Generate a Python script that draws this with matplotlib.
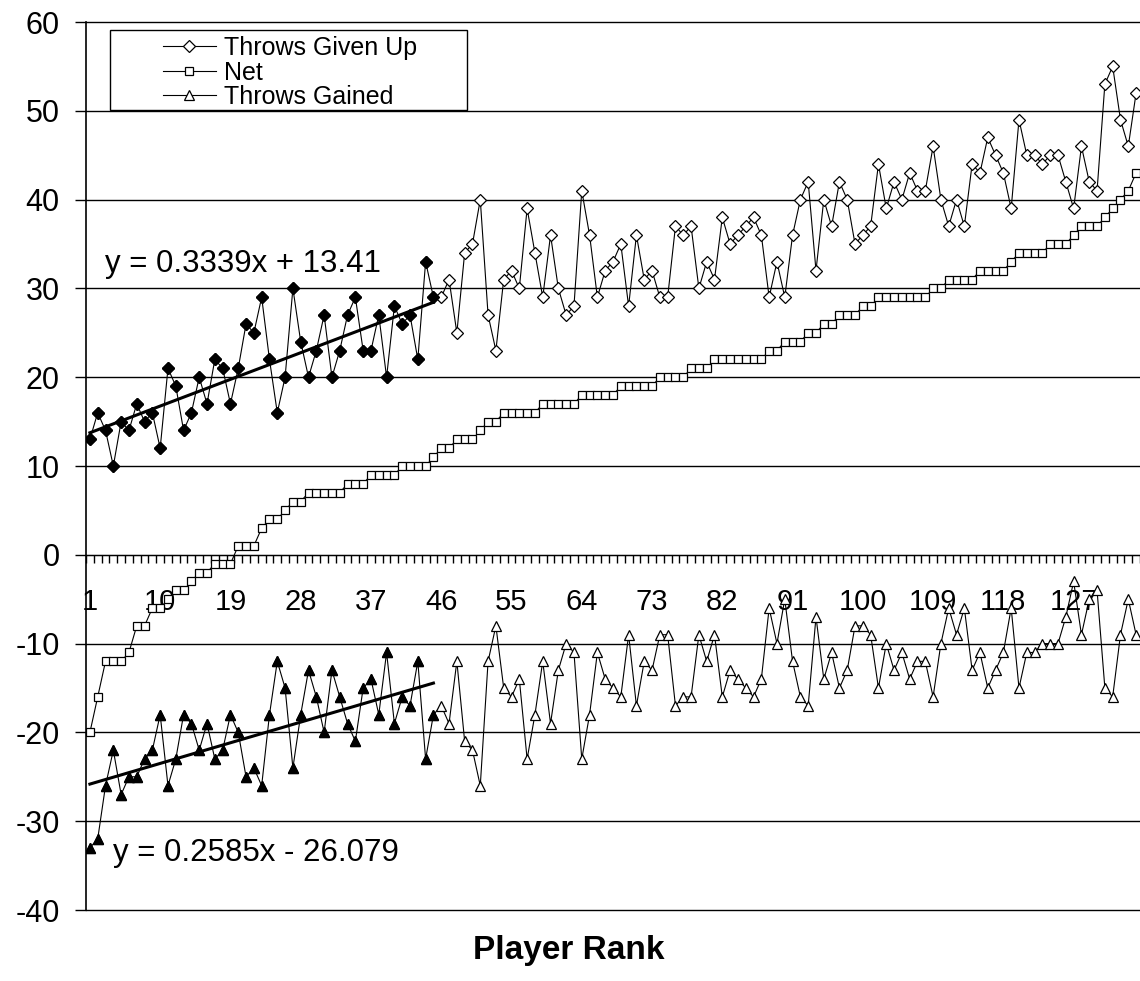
import numpy as np
import matplotlib.pyplot as plt
from matplotlib.patches import Rectangle

# per-player throw counts, in rank order
throws_given_up = [13, 16, 14, 10, 15, 14, 17, 15, 16, 12,
                   21, 19, 14, 16, 20, 17, 22, 21, 17, 21,
                   26, 25, 29, 22, 16, 20, 30, 24, 20, 23,
                   27, 20, 23, 27, 29, 23, 23, 27, 20, 28,
                   26, 27, 22, 33, 29, 29, 31, 25, 34, 35,
                   40, 27, 23, 31, 32, 30, 39, 34, 29, 36,
                   30, 27, 28, 41, 36, 29, 32, 33, 35, 28,
                   36, 31, 32, 29, 29, 37, 36, 37, 30, 33,
                   31, 38, 35, 36, 37, 38, 36, 29, 33, 29,
                   36, 40, 42, 32, 40, 37, 42, 40, 35, 36,
                   37, 44, 39, 42, 40, 43, 41, 41, 46, 40,
                   37, 40, 37, 44, 43, 47, 45, 43, 39, 49,
                   45, 45, 44, 45, 45, 42, 39, 46, 42, 41,
                   53, 55, 49, 46, 52]

net = [-20, -16, -12, -12, -12, -11, -8, -8, -6, -6,
       -5, -4, -4, -3, -2, -2, -1, -1, -1, 1,
       1, 1, 3, 4, 4, 5, 6, 6, 7, 7,
       7, 7, 7, 8, 8, 8, 9, 9, 9, 9,
       10, 10, 10, 10, 11, 12, 12, 13, 13, 13,
       14, 15, 15, 16, 16, 16, 16, 16, 17, 17,
       17, 17, 17, 18, 18, 18, 18, 18, 19, 19,
       19, 19, 19, 20, 20, 20, 20, 21, 21, 21,
       22, 22, 22, 22, 22, 22, 22, 23, 23, 24,
       24, 24, 25, 25, 26, 26, 27, 27, 27, 28,
       28, 29, 29, 29, 29, 29, 29, 29, 30, 30,
       31, 31, 31, 31, 32, 32, 32, 32, 33, 34,
       34, 34, 34, 35, 35, 35, 36, 37, 37, 37,
       38, 39, 40, 41, 43]

throws_gained = [-33, -32, -26, -22, -27, -25, -25, -23, -22, -18,
                 -26, -23, -18, -19, -22, -19, -23, -22, -18, -20,
                 -25, -24, -26, -18, -12, -15, -24, -18, -13, -16,
                 -20, -13, -16, -19, -21, -15, -14, -18, -11, -19,
                 -16, -17, -12, -23, -18, -17, -19, -12, -21, -22,
                 -26, -12, -8, -15, -16, -14, -23, -18, -12, -19,
                 -13, -10, -11, -23, -18, -11, -14, -15, -16, -9,
                 -17, -12, -13, -9, -9, -17, -16, -16, -9, -12,
                 -9, -16, -13, -14, -15, -16, -14, -6, -10, -5,
                 -12, -16, -17, -7, -14, -11, -15, -13, -8, -8,
                 -9, -15, -10, -13, -11, -14, -12, -12, -16, -10,
                 -6, -9, -6, -13, -11, -15, -13, -11, -6, -15,
                 -11, -11, -10, -10, -10, -7, -3, -9, -5, -4,
                 -15, -16, -9, -5, -9]

# linear trends fitted over the top 45 ranks
n_fit = 45
trend_given = (0.3339, 13.41)
trend_gained = (0.2585, -26.079)

rank = np.arange(1, len(net) + 1)
given_arr = np.array(throws_given_up)
gained_arr = np.array(throws_gained)

plt.rcParams['font.family'] = ['Liberation Sans', 'DejaVu Sans']
plt.rcParams['axes.unicode_minus'] = False

W, H = 1140, 981
fig = plt.figure(figsize=(W / 100, H / 100), dpi=100)
ax = fig.add_axes([86 / W, 1 - 910 / H, 1 - 86 / W, 888 / H])

line_kw = dict(color='black', lw=0.8, mec='black', mew=0.9, mfc='white')
ax.plot(rank, given_arr, marker='D', ms=6.3, label='Throws Given Up', **line_kw)
ax.plot(rank, net, marker='s', ms=5.9, label='Net', **line_kw)
ax.plot(rank, gained_arr, marker='^', ms=7.5, label='Throws Gained', **line_kw)

# solid markers on the ranks used for the trend fits
ax.plot(rank[:n_fit], given_arr[:n_fit], ls='none', marker='D', ms=6.3,
        mfc='black', mec='black')
ax.plot(rank[:n_fit], gained_arr[:n_fit], ls='none', marker='^', ms=7.5,
        mfc='black', mec='black')

xf = np.array([1, n_fit])
ax.plot(xf, trend_given[0] * xf + trend_given[1], color='black', lw=2.2, zorder=4)
ax.plot(xf, trend_gained[0] * xf + trend_gained[1], color='black', lw=2.2, zorder=4)
ax.text(2.9, 32.7, f'y = {trend_given[0]}x + {trend_given[1]}', fontsize=22.5, va='center')
ax.text(3.9, -33.6, f'y = {trend_gained[0]}x - {abs(trend_gained[1])}', fontsize=22.5, va='center')

ax.set_xlim(0.5, 135.15)
ax.set_ylim(-40, 60)
ax.set_yticks(range(-40, 61, 10))
ax.yaxis.grid(True, color='black', lw=1)
ax.set_axisbelow(True)
for gl in ax.get_ygridlines():
    gl.set_clip_on(False)

for side in ('top', 'right'):
    ax.spines[side].set_visible(False)
ax.spines['bottom'].set_position(('data', 0))
ax.spines['left'].set_linewidth(1.2)

ax.set_xticks(rank[::9])
ax.set_xticks(np.arange(0.5, len(net) + 1, 1), minor=True)
ax.tick_params(axis='x', which='major', length=0, pad=24, labelsize=21)
ax.tick_params(axis='x', which='minor', direction='out', length=5.5, width=1)
ax.tick_params(axis='y', direction='out', length=8, width=1, pad=11, labelsize=22)

fig.text(569 / W, 1 - 950 / H, 'Player Rank', ha='center', va='center',
         fontsize=24, fontweight='bold')

# legend sits in a box whose bottom edge rests on the 50 gridline
fig.add_artist(Rectangle((110 / W, 1 - 110 / H), 357 / W, 80 / H,
                         transform=fig.transFigure, facecolor='white',
                         edgecolor='black', lw=1, zorder=4))
handles, labels = ax.get_legend_handles_labels()
leg = fig.legend(handles, labels, loc='upper left',
                 bbox_to_anchor=(163 / W, 1 - 36 / H), frameon=False,
                 fontsize=18, handlelength=2.1, handletextpad=0.35,
                 labelspacing=0.02, borderpad=0, borderaxespad=0)
leg.set_zorder(5)

fig.savefig('out.png', dpi=100, facecolor='white')
